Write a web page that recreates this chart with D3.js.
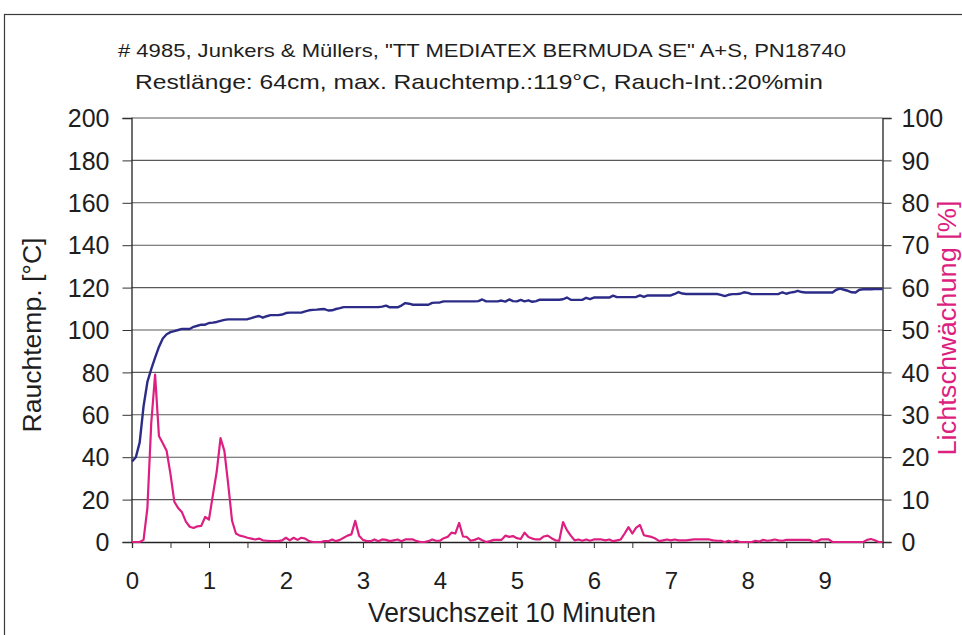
<!DOCTYPE html>
<html><head><meta charset="utf-8">
<script src="https://cdn.jsdelivr.net/npm/d3@7/dist/d3.min.js"></script>
<style>
body{margin:0;background:#fff}
svg{display:block}
text{font-family:"Liberation Sans",Arial,Helvetica,sans-serif;fill:#1e1e1e}
</style>
</head><body>
<svg id="chart" width="962" height="635"></svg>
<script>
// ---------- data ----------
const titleText = '# 4985, Junkers & Müllers, "TT MEDIATEX BERMUDA SE" A+S, PN18740';
const subtitleText = 'Restlänge: 64cm, max. Rauchtemp.:119°C, Rauch-Int.:20%min';
const xAxisTitle = 'Versuchszeit 10 Minuten';
const yLeftTitle = 'Rauchtemp. [°C]';
const yRightTitle = 'Lichtschwächung [%]';

const timeStep = 0.05;              // spacing of the recorded samples on the x axis
const xTickValues = [0,0.5,1,1.5,2,2.5,3,3.5,4,4.5,5,5.5,6,6.5,7,7.5,8,8.5,9,9.5];
const xTickLabels = [0,1,2,3,4,5,6,7,8,9];
const leftTicks = [0,20,40,60,80,100,120,140,160,180,200];
const rightTicks = [0,10,20,30,40,50,60,70,80,90,100];

// smoke temperature [°C]
const rauchtemp = [
  38, 40, 47, 64, 75.5, 81.5, 87, 92, 96, 98, 99, 99.5, 100, 100.5, 100.5, 100.5, 101.5, 102, 102.5, 102.5,
  103.3, 103.5, 103.8, 104.3, 104.8, 105, 105, 105, 105, 105, 105.1, 105.6, 106.2, 106.6, 105.8, 106.5, 107, 107, 107, 107.3,
  108, 108.2, 108.2, 108.2, 108.2, 108.8, 109.3, 109.5, 109.6, 109.8, 109.9, 109.2, 109.3, 109.9, 110.3, 110.8, 110.8, 110.8, 110.8, 110.8,
  110.8, 110.8, 110.8, 110.8, 110.8, 111, 111.5, 110.7, 110.7, 110.7, 111.5, 112.7, 112.4, 111.9, 111.9, 111.9, 111.9, 111.9, 112.8, 112.9,
  113, 113.5, 113.5, 113.5, 113.5, 113.5, 113.5, 113.5, 113.5, 113.5, 113.6, 114.4, 113.5, 113.5, 113.5, 113.5, 113.9, 113.4, 114.4, 113.6,
  113.5, 114.2, 113.5, 114, 113.3, 113.6, 114.3, 114.3, 114.3, 114.3, 114.3, 114.3, 114.5, 115.3, 114.3, 114.2, 114.2, 114.2, 115.2, 114.6,
  115.3, 115.3, 115.3, 115.3, 115.3, 116.2, 115.5, 115.5, 115.5, 115.5, 115.5, 115.6, 116.3, 115.6, 116.3, 116.3, 116.3, 116.3, 116.3, 116.3,
  116.3, 117, 117.9, 117.2, 117, 117, 117, 117, 117, 117, 117, 117, 117, 116.6, 116, 116.6, 116.9, 116.9, 117.1, 117.8,
  117.5, 116.9, 116.9, 116.9, 116.9, 116.9, 116.9, 116.9, 117, 117.8, 117.1, 117.6, 117.9, 118.5, 117.9, 117.7, 117.7, 117.7, 117.7, 117.7,
  117.7, 117.7, 117.7, 119, 119.5, 119, 118.5, 117.8, 117.7, 119, 119.2, 119.2, 119.2, 119.3, 119.3, 119.3
];

// light attenuation [%]
const lichtschwaechung = [
  0, 0, 0, 0.5, 8, 28, 39.5, 25, 23.3, 21.5, 16, 9.5, 8, 7, 4.8, 3.6, 3.3, 3.7, 3.8, 5.9,
  5.3, 11, 16.5, 24.5, 21.5, 13.6, 5, 2, 1.5, 1.3, 1.0, 0.8, 0.6, 0.8, 0.4, 0.3, 0.2, 0.2, 0.2, 0.4,
  1.0, 0.4, 1.0, 0.5, 1.0, 0.8, 0.2, 0, 0, 0, 0.2, 0.2, 0.6, 0.2, 0.5, 1.0, 1.5, 1.8, 5.0, 1.5,
  0.5, 0.2, 0.2, 0.6, 0.2, 0.6, 0.5, 0.2, 0.4, 0.6, 0.2, 0.6, 0.6, 0.6, 0.2, 0, 0, 0.2, 0.6, 0.3,
  0.3, 0.9, 1.2, 2.2, 2.0, 4.5, 1.3, 1.2, 0.3, 0.5, 0.9, 0.4, 0, 0.2, 0.5, 0.5, 0.5, 1.5, 1.2, 1.4,
  0.9, 0.7, 2.2, 1.2, 0.8, 0.6, 0.6, 1.3, 1.5, 0.9, 0.4, 0.3, 4.7, 2.8, 1.5, 0.4, 0.6, 0.3, 0.6, 0.3,
  0.6, 0.6, 0.6, 0.4, 0.6, 0.2, 0.4, 0.6, 2.0, 3.5, 2.0, 3.4, 4.0, 1.6, 1.4, 1.2, 0.8, 0.2, 0.4, 0.6,
  0.4, 0.6, 0.4, 0.4, 0.4, 0.5, 0.6, 0.6, 0.6, 0.6, 0.6, 0.4, 0.3, 0.3, 0, 0.3, 0, 0.3, 0, 0,
  0, 0, 0.3, 0.1, 0.5, 0.3, 0.4, 0.6, 0.4, 0.3, 0.5, 0.5, 0.5, 0.5, 0.5, 0.5, 0.5, 0.1, 0.2, 0.6,
  0.6, 0.6, 0, 0, 0, 0, 0, 0, 0, 0, 0, 0.5, 0.7, 0.4, 0, 0
];

// ---------- drawing ----------
const svg = d3.select('#chart');
const colTemp = '#2c2c88';
const colLight = '#dc1f80';

const L = 131.5, R = 882.5, T = 118, B = 542;
const zeit = rauchtemp.map((_, i) => +(i * timeStep).toFixed(2));

const x = d3.scaleLinear().domain([0, 9.75]).range([L + 0.5, R]);
const yL = d3.scaleLinear().domain([0, 200]).range([B, T]);
const yR = d3.scaleLinear().domain([0, 100]).range([B, T]);

// outer frame (scan border)
svg.append('rect').attr('x', 4.5).attr('y', 14.5).attr('width', 1000).attr('height', 700)
  .attr('fill', 'none').attr('stroke', '#3a3a3a').attr('stroke-width', 1.2);

// gridlines
svg.append('g').selectAll('line').data(leftTicks.filter(d => d > 0)).join('line')
  .attr('x1', L).attr('x2', R).attr('y1', d => yL(d)).attr('y2', d => yL(d))
  .attr('stroke', '#5a5a5a').attr('stroke-width', 1.1);

// left axis
const gL = svg.append('g').attr('transform', `translate(${L},0)`)
  .call(d3.axisLeft(yL).tickValues(leftTicks).tickSize(9).tickPadding(13).tickFormat(d3.format('d')));
gL.select('.domain').attr('stroke', '#222').attr('stroke-width', 1.3);
gL.selectAll('.tick line').attr('stroke', '#333');
gL.selectAll('text').attr('font-size', 25).attr('fill', '#1e1e1e').attr('dy', '0.35em')
  .style('font-family', '"Liberation Sans",Arial,sans-serif');

// right axis
const gR = svg.append('g').attr('transform', `translate(${R},0)`)
  .call(d3.axisRight(yR).tickValues(rightTicks).tickSize(9).tickPadding(10).tickFormat(d3.format('d')));
gR.select('.domain').attr('stroke', '#222').attr('stroke-width', 1.3);
gR.selectAll('.tick line').attr('stroke', '#333');
gR.selectAll('text').attr('font-size', 25).attr('fill', '#1e1e1e').attr('dy', '0.35em')
  .style('font-family', '"Liberation Sans",Arial,sans-serif');

// bottom axis
const gB = svg.append('g').attr('transform', `translate(0,${B})`)
  .call(d3.axisBottom(x).tickValues(xTickValues).tickSize(6)
    .tickFormat(d => xTickLabels.includes(d) ? String(d) : ''));
gB.select('.domain').attr('stroke', '#222').attr('stroke-width', 1.3);
gB.selectAll('.tick line').attr('stroke', '#333');
gB.selectAll('text').attr('font-size', 24).attr('fill', '#1e1e1e').attr('y', 47).attr('dy', 0)
  .style('font-family', '"Liberation Sans",Arial,sans-serif');

// lines
const lineT = d3.line().x((d, i) => x(zeit[i])).y(d => yL(d));
const lineS = d3.line().x((d, i) => x(zeit[i])).y(d => yR(d));
svg.append('path').datum(lichtschwaechung).attr('d', lineS)
  .attr('fill', 'none').attr('stroke', colLight).attr('stroke-width', 2.2).attr('stroke-linejoin', 'round');
svg.append('path').datum(rauchtemp).attr('d', lineT)
  .attr('fill', 'none').attr('stroke', colTemp).attr('stroke-width', 2.4).attr('stroke-linejoin', 'round');

// titles
svg.append('text').attr('x', 482).attr('y', 56.5).attr('text-anchor', 'middle')
  .attr('font-size', 19).attr('textLength', 728).attr('lengthAdjust', 'spacingAndGlyphs').text(titleText);
svg.append('text').attr('x', 479).attr('y', 88.5).attr('text-anchor', 'middle')
  .attr('font-size', 21).attr('textLength', 688).attr('lengthAdjust', 'spacingAndGlyphs').text(subtitleText);

svg.append('text').attr('x', 512).attr('y', 622).attr('text-anchor', 'middle')
  .attr('font-size', 27).attr('textLength', 288).attr('lengthAdjust', 'spacingAndGlyphs').text(xAxisTitle);

svg.append('text').attr('transform', 'translate(41,335) rotate(-90)').attr('text-anchor', 'middle')
  .attr('font-size', 26).attr('textLength', 195).attr('lengthAdjust', 'spacingAndGlyphs').text(yLeftTitle);

svg.append('text').attr('transform', 'translate(956,328) rotate(-90)').attr('text-anchor', 'middle')
  .attr('font-size', 26).attr('textLength', 255).attr('lengthAdjust', 'spacingAndGlyphs')
  .style('fill', colLight).text(yRightTitle);
</script>
</body></html>
